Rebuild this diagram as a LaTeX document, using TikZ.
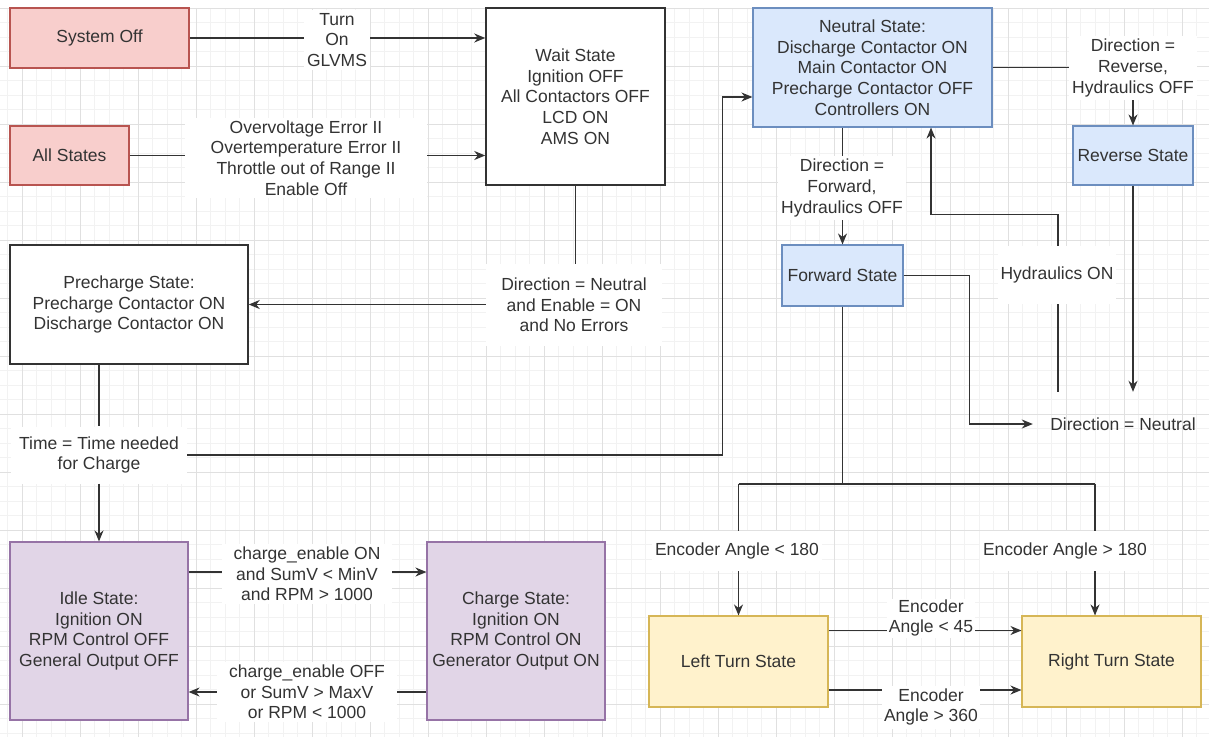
\documentclass[tikz,border=0pt]{standalone}
\usepackage{fontspec}
\setmainfont{Liberation Sans}
\usetikzlibrary{arrows.meta}
\definecolor{redfill}{HTML}{F8CECC}
\definecolor{redline}{HTML}{B85450}
\definecolor{bluefill}{HTML}{DAE8FC}
\definecolor{blueline}{HTML}{6C8EBF}
\definecolor{purpfill}{HTML}{E1D5E7}
\definecolor{purpline}{HTML}{9673A6}
\definecolor{yelfill}{HTML}{FFF2CC}
\definecolor{yelline}{HTML}{D6B656}
\definecolor{ink}{HTML}{333333}
\begin{document}
\begin{tikzpicture}[x=1pt,y=-1pt,
  every node/.style={font=\fontsize{17.5}{20.7}\selectfont, text=ink, align=center},
  sz/.style 2 args={minimum width=#1pt, minimum height=#2pt},
  state/.style={draw, line width=1.1pt, inner sep=0pt},
  whitebox/.style={state, fill=white, draw=black!80, line width=1.5pt},
  redbox/.style={state, fill=redfill, draw=redline},
  bluebox/.style={state, fill=bluefill, draw=blueline},
  purpbox/.style={state, fill=purpfill, draw=purpline},
  yelbox/.style={state, fill=yelfill, draw=yelline},
  textonly/.style={inner sep=0pt},
  lbl/.style={fill=white, inner xsep=3pt, inner ysep=3pt},
  conn/.style={draw=ink, line width=1.3pt},
  arr/.style={conn, -{Stealth[length=11pt,width=9pt,inset=3.5pt]}},
  gridminor/.style={draw=black!5, line width=0.6pt},
  gridmajor/.style={draw=black!12, line width=0.7pt}]

\useasboundingbox (0,0) rectangle (1209,736);

% background grid
\begin{scope}
  \clip (0,8) rectangle (1209,736);
  \foreach \i in {-2,...,82} {\draw[gridminor] ({22+14.5*\i},0) -- ++(0,740);}
  \foreach \j in {0,...,50} {\draw[gridminor] (0,{8+14.5*\j}) -- ++(1210,0);}
  \foreach \i in {-1,...,21} {\draw[gridmajor] ({22+58*\i},0) -- ++(0,740);}
  \foreach \j in {0,...,13} {\draw[gridmajor] (0,{8+58*\j}) -- ++(1210,0);}
\end{scope}

% states
\node[redbox, sz={179}{60}] (sysoff) at (99.5,38) {System Off};
\node[redbox, sz={119}{59}] (allst) at (69.5,155.5) {All States};
\node[whitebox, sz={179}{177}] (wait) at (575.5,96.5)
  {Wait State\\Ignition OFF\\All Contactors OFF\\LCD ON\\AMS ON};
\node[bluebox, sz={239}{119}] (neutral) at (872.5,67.5)
  {Neutral State:\\Discharge Contactor ON\\Main Contactor ON\\Precharge Contactor OFF\\Controllers ON};
\node[bluebox, sz={120}{59}] (reverse) at (1133,155.5) {Reverse State};
\node[whitebox, sz={238}{119}] (pre) at (129,304.5)
  {Precharge State:\\Precharge Contactor ON\\Discharge Contactor ON};
\node[bluebox, sz={121}{61}] (fwd) at (842.5,275.5) {Forward State};
\node[textonly, sz={180}{64}] (dirn) at (1123,424) {Direction = Neutral};
\node[purpbox, sz={178}{178}] (idle) at (99,631)
  {Idle State:\\Ignition ON\\RPM Control OFF\\General Output OFF};
\node[purpbox, sz={178}{178}] (charge) at (516,631)
  {Charge State:\\Ignition ON\\RPM Control ON\\Generator Output ON};
\node[yelbox, sz={179}{91}] (left) at (738.5,661.5) {Left Turn State};
\node[yelbox, sz={179}{91}] (right) at (1111.5,661.5) {Right Turn State};

% precharge timing label, which also splits the outgoing connectors
\node[lbl, inner xsep=8pt, inner ysep=10pt] (timelbl) at (99,455) {Time = Time needed\\for Charge};

% connectors
\draw[arr] (sysoff.east) -- (sysoff.east -| wait.west);
\draw[arr] (allst.east) -- (allst.east -| wait.west);
\draw[arr] (wait.south) |- (pre.east);
\draw[conn] (pre.south -| timelbl.north) -- (timelbl.north);
\draw[arr] (timelbl.south) -- (idle.north);
\coordinate (nin) at ([yshift=-29.5pt]neutral.west);
\draw[arr] (timelbl.east) -| ([xshift=-30pt]nin) -- (nin);
\draw[arr] (neutral.east) -| (reverse.north);
\draw[arr] (neutral.south -| fwd.north) -- (fwd.north);
\coordinate (hy) at ([xshift=-65pt]dirn.north);
\coordinate (hin) at ([xshift=58.5pt]neutral.south);
\draw[arr] (hy) -- ++(0,-177) -| (hin);
\draw[arr] (fwd.east) -- ++(66,0) |- (dirn.west);
\draw[arr] (reverse.south) -- (reverse.south |- dirn.north);
\draw[conn] (fwd.south) -- ++(0,177.5) coordinate (jn);
\coordinate (jr) at ([xshift=-16.5pt]right.north);
\draw[conn] (left.north |- jn) -- (jr |- jn);
\draw[arr] (left.north |- jn) -- (left.north);
\draw[arr] (jr |- jn) -- (jr);
\draw[arr] ([yshift=31pt]left.east) -- ([yshift=31pt]right.west);
\draw[arr] ([yshift=-28.5pt]left.east) -- ([yshift=-28.5pt]right.west);
\draw[arr] ([yshift=59pt]idle.east) -- ([yshift=59pt]charge.west);
\draw[arr] ([yshift=-61pt]charge.west) -- ([yshift=-61pt]idle.east);

% transition labels
\node[lbl] (turnlbl) at (337,40) {Turn\\On\\GLVMS};
\node[lbl, minimum width=242pt] (ovlbl) at (306,158)
  {Overvoltage Error II\\Overtemperature Error II\\Throttle out of Range II\\Enable Off};
\node[lbl, inner xsep=15pt, inner ysep=14pt] (dirlbl) at (574,305)
  {Direction = Neutral\\and Enable = ON\\and No Errors};
\node[lbl] (revlbl) at (1133,68) {Direction =\\Reverse,\\Hydraulics OFF};
\node[lbl] (fwdlbl) at (842,188) {Direction =\\Forward,\\Hydraulics OFF};
\node[lbl, inner ysep=21pt] (hylbl) at (1057,275) {Hydraulics ON};
\node[lbl, inner ysep=12pt] (lt180) at (737,551) {Encoder Angle < 180};
\node[lbl, inner ysep=12pt] (gt180) at (1065,551) {Encoder Angle > 180};
\node[lbl, inner xsep=2pt, inner ysep=1pt] (lt45) at (931,618) {Encoder\\Angle < 45};
\node[lbl, inner xsep=2pt] (gt360) at (931,707) {Encoder\\Angle > 360};
\node[lbl, inner xsep=12pt] (ch1) at (307,574) {charge\_enable ON\\and SumV < MinV\\and RPM > 1000};
\node[lbl, inner xsep=12pt] (ch2) at (307,692) {charge\_enable OFF\\or SumV > MaxV\\or RPM < 1000};
\end{tikzpicture}
\end{document}
